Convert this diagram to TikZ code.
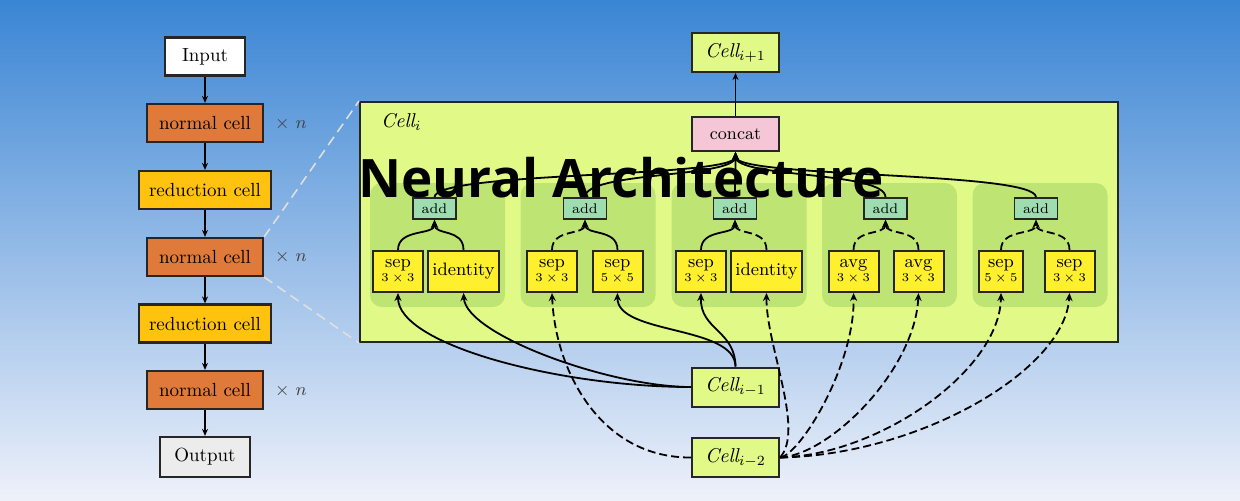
\documentclass[tikz,border=0pt]{standalone}
\usepackage{amsmath}
\usepackage{fontspec}
\usepackage{tikz}
\usetikzlibrary{arrows.meta}
\newfontfamily\titlefont{Open Sans}
\definecolor{bgtop}{HTML}{3A85D4}
\definecolor{bgmid}{HTML}{88B8EC}
\definecolor{bgbottom}{HTML}{EEF1FA}
\definecolor{normalorange}{HTML}{E07A3A}
\definecolor{reductiongold}{HTML}{FFC20F}
\definecolor{outputgray}{HTML}{ECECEC}
\definecolor{celllime}{HTML}{E1FA87}
\definecolor{groupgreen}{HTML}{BEE473}
\definecolor{opyellow}{HTML}{FFF02D}
\definecolor{addteal}{HTML}{9DDDB0}
\definecolor{concatpink}{HTML}{F5C6D6}
\tikzset{
  stage/.style={draw=black!85, line width=1.1pt, minimum height=19pt, inner sep=0pt,
    font=\fontsize{9.5}{11}\selectfont},
  normalcell/.style={stage, fill=normalorange, minimum width=58pt},
  redcell/.style={stage, fill=reductiongold, minimum width=66pt},
  repeat/.style={text=black!75, font=\fontsize{9}{10}\selectfont},
  cellbox/.style={draw=black!85, line width=1pt, fill=celllime, minimum width=43.5pt,
    minimum height=19.5pt, inner sep=0pt, font=\fontsize{10}{11}\selectfont},
  opgroup/.style={fill=groupgreen, rounded corners=6pt, minimum width=67.5pt, minimum height=62pt},
  opbox/.style={draw=black!85, line width=1pt, fill=opyellow, minimum width=25pt,
    minimum height=20.5pt, inner sep=0pt, align=center, font=\fontsize{9}{8}\selectfont},
  addbox/.style={draw=black!85, line width=0.8pt, fill=addteal, minimum width=21.5pt,
    minimum height=10.5pt, inner sep=0pt, font=\fontsize{7}{7}\selectfont},
  flow/.style={line width=0.6pt, -{Stealth[length=3.5pt,width=3pt]}},
  link/.style={line width=0.9pt, -{Stealth[length=4pt,width=3.5pt]}},
  prevlink/.style={link, dash pattern=on 4pt off 2pt},
  zoomline/.style={white!75!gray, line width=0.8pt, dash pattern=on 5pt off 3pt},
}
\newcommand{\kxk}[2]{#1\\[-1pt]{\fontsize{6}{6}\selectfont $#2\times#2$}}

\begin{document}
\begin{tikzpicture}[x=0.5pt,y=-0.5pt]
  \useasboundingbox (0,0) rectangle (1240,500);
  \shade[top color=bgtop, middle color=bgmid, bottom color=bgbottom] (0,0) rectangle (1240,500);

  % stacked network
  \node[stage, fill=white, minimum width=40pt] (input) at (205,56.5) {Input};
  \node[normalcell] (n1) at (205,123) {normal cell};
  \node[redcell] (r1) at (205,190) {reduction cell};
  \node[normalcell] (n2) at (205,257) {normal cell};
  \node[redcell] (r2) at (205,323.5) {reduction cell};
  \node[normalcell] (n3) at (205,390) {normal cell};
  \node[stage, fill=outputgray, minimum width=45pt, minimum height=20pt] (output) at (205,457) {Output};
  \foreach \a/\b in {input/n1,n1/r1,r1/n2,n2/r2,r2/n3,n3/output}
    \draw[flow] (\a) -- (\b);
  \node[repeat] (xn1) at (291,124) {$\times\ n$};
  \node[repeat] (xn2) at (291,257) {$\times\ n$};
  \node[repeat] (xn3) at (291,391) {$\times\ n$};

  % cell i
  \node[draw=black!85, line width=1pt, fill=celllime, minimum width=379pt, minimum height=120pt] (celli) at (739,222) {};
  \draw[zoomline] (n2.north east) -- (celli.north west);
  \draw[zoomline] (n2.south east) -- (celli.south west);
  \node[anchor=west, font=\fontsize{10}{11}\selectfont] (cellilabel) at (374,122) {$\mathit{Cell}_i$};
  \foreach \gx [count=\k] in {437.5,588,739,889.5,1040}
    \node[opgroup] (g\k) at (\gx,245) {};
  \foreach \ax [count=\k] in {434.5,585,735,885.5,1036}
    \node[addbox] (add\k) at (\ax,208.5) {add};

  \node[opbox] (op1a) at (398,271.5) {\kxk{sep}{3}};
  \node[opbox, minimum width=35.5pt] (op1b) at (463.5,271.5) {identity};
  \node[opbox] (op2a) at (552,271.5) {\kxk{sep}{3}};
  \node[opbox] (op2b) at (617.5,271.5) {\kxk{sep}{5}};
  \node[opbox] (op3a) at (701,271.5) {\kxk{sep}{3}};
  \node[opbox, minimum width=35.5pt] (op3b) at (766.5,271.5) {identity};
  \node[opbox] (op4a) at (853.5,271.5) {\kxk{avg}{3}};
  \node[opbox] (op4b) at (918.5,271.5) {\kxk{avg}{3}};
  \node[opbox, minimum width=22pt] (op5a) at (1001,271.5) {\kxk{sep}{5}};
  \node[opbox] (op5b) at (1069.5,271.5) {\kxk{sep}{3}};

  % ops into add
  \foreach \k/\s/\t in {1/link/link,2/prevlink/link,3/link/prevlink,4/prevlink/prevlink,5/prevlink/prevlink} {
    \draw[\s] (op\k a.north) .. controls +(0,-22) and +(0,16) .. (add\k.south);
    \draw[\t] (op\k b.north) .. controls +(0,-22) and +(0,16) .. (add\k.south);
  }

  \node[cellbox, fill=concatpink, minimum height=17pt, font=\fontsize{8.8}{10}\selectfont] (concat) at (735.5,134) {concat};
  \foreach \k in {1,...,5}
    \draw[link] (add\k.north) .. controls +(0,-26) and +(0,26) .. (concat.south);
  \node[cellbox] (cellp1) at (735.5,52.5) {$\mathit{Cell}_{i+1}$};
  \draw[flow] (concat) -- (cellp1);

  % inputs
  \node[cellbox] (cellm1) at (735.5,387) {$\mathit{Cell}_{i-1}$};
  \node[cellbox] (cellm2) at (735.5,457.5) {$\mathit{Cell}_{i-2}$};
  \draw[link] (cellm1.west) .. controls (560,387) and (398,345) .. (op1a.south);
  \draw[link] (cellm1.west) .. controls (610,387) and (466,335) .. (op1b.south);
  \draw[link] (cellm1.north) .. controls (735,325) and (617,335) .. (op2b.south);
  \draw[link] (cellm1.north) .. controls (735,330) and (700,330) .. (op3a.south);
  \draw[prevlink] (cellm2.west) .. controls (600,458) and (555,370) .. (op2a.south);
  \draw[prevlink] (cellm2.east) .. controls (805,430) and (766,345) .. (op3b.south);
  \draw[prevlink] (cellm2.east) .. controls (800,455) and (855,365) .. (op4a.south);
  \draw[prevlink] (cellm2.east) .. controls (830,455) and (915,370) .. (op4b.south);
  \draw[prevlink] (cellm2.east) .. controls (880,455) and (1000,370) .. (op5a.south);
  \draw[prevlink] (cellm2.east) .. controls (920,455) and (1065,370) .. (op5b.south);

  \node[anchor=base, font=\titlefont\bfseries\fontsize{26.5}{30}\selectfont] (title) at (621,197) {Neural Architecture};
\end{tikzpicture}
\end{document}
